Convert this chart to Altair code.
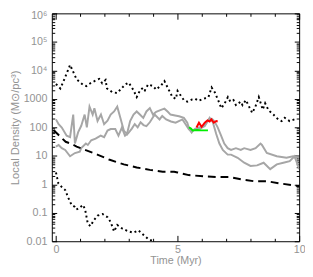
import altair as alt
import pandas as pd

# ---- data ----
top_t = [0, 0.18, 0.35, 0.58, 0.85, 1.1, 1.25, 1.45, 1.78, 1.9, 2.04, 2.1, 2.32, 2.52, 2.85, 2.99, 3.19, 3.32, 3.46, 3.59,
         3.66, 3.79, 3.99, 4.12, 4.33, 4.46, 4.66, 4.79, 4.93, 5.0, 5.13, 5.26, 5.4, 5.6, 5.73, 5.86, 6.07, 6.27, 6.4, 6.53,
         6.67, 6.8, 6.94, 7.07, 7.17, 7.3, 7.4, 7.6, 7.67, 7.81, 7.94, 8.07, 8.2, 8.34, 8.42, 8.5, 8.6, 8.74, 8.94, 9.14,
         9.28, 9.41, 9.61, 9.81, 9.88]
top_v = [3300, 2300, 5000, 15500, 4800, 3200, 2800, 3700, 5000, 3500, 4600, 2300, 1700, 1600, 3200, 3700, 2000, 1150, 2000, 2500,
         2000, 3200, 2800, 2100, 3000, 4200, 1900, 1150, 1000, 1900, 1300, 900, 800, 950, 1000, 850, 1000, 1150, 2500, 1700,
         900, 470, 700, 1150, 800, 900, 600, 800, 600, 900, 530, 320, 530, 1150, 700, 420, 700, 400, 280, 190,
         165, 215, 165, 190, 200]

bot_t = [0, 0.1, 0.23, 0.38, 0.51, 0.64, 0.78, 0.84, 0.97, 1.11, 1.2, 1.31, 1.42, 1.55, 1.71, 1.92, 2.12, 2.25, 2.39, 2.52,
         2.72, 2.99, 3.19, 3.39, 3.59, 3.79, 3.99, 4.2]
bot_v = [2.6, 1.07, 0.82, 0.63, 0.33, 0.19, 0.16, 0.13, 0.15, 0.19, 0.13, 0.041, 0.034, 0.054, 0.079, 0.09, 0.07, 0.047, 0.022, 0.037,
         0.028, 0.022, 0.02, 0.024, 0.017, 0.012, 0.01, 0.0075]

dash_t = [-0.1, 0.2, 0.4, 0.6, 0.85, 1.25, 1.7, 2.18, 2.79, 3.32, 3.86, 4.39, 4.86, 5.0, 5.46, 6.07, 6.6, 7.13, 7.6, 8.14,
          8.67, 9.21, 9.88, 10.0]
dash_v = [80, 45, 31, 27, 21, 15.5, 11, 7.4, 5.0, 3.9, 3.2, 2.75, 2.75, 2.6, 2.1, 1.9, 1.8, 1.8, 1.5, 1.28,
          1.28, 1.07, 0.89, 0.87]

g1_t = [0, 0.11, 0.24, 0.44, 0.58, 0.71, 0.78, 0.91, 1.04, 1.18, 1.27, 1.38, 1.51, 1.58, 1.71, 1.85, 1.98, 2.12, 2.25, 2.39,
        2.52, 2.65, 2.79, 2.92, 3.05, 3.19, 3.32, 3.45, 3.59, 3.72, 3.86, 3.99, 4.12, 4.32, 4.46, 4.6, 4.71, 4.9, 5.06, 5.26,
        5.4, 5.46, 5.58, 5.65, 5.93, 6.12, 6.32, 6.45, 6.59, 6.72, 6.86, 7.06, 7.2, 7.47, 7.74, 8.0, 8.27, 8.54, 8.81, 9.08,
        9.35, 9.61, 9.81, 9.9, 10.0]
g1_v = [190, 128, 98, 51, 45, 280, 27, 66, 113, 280, 100, 530, 280, 470, 166, 280, 128, 170, 280, 360,
        530, 214, 77, 58, 166, 280, 360, 280, 214, 360, 470, 280, 350, 410, 450, 350, 280, 260, 245, 214,
        145, 98, 66, 80, 90, 110, 214, 150, 58, 27, 16, 11, 11, 8.5, 5.7, 4.4, 4.6, 5.7, 3.4, 5.0,
        5.7, 6.5, 9.6, 6, 3.4]

g2_t = [0, 0.11, 0.24, 0.38, 0.58, 0.78, 0.98, 1.04, 1.23, 1.31, 1.45, 1.63, 1.84, 1.98, 2.12, 2.25, 2.44, 2.57, 2.71, 2.84,
        2.96, 3.12, 3.24, 3.36, 3.48, 3.6, 3.72, 3.86, 4.06, 4.26, 4.37, 4.53, 4.73, 4.92, 5.2, 5.33, 5.46, 5.57, 5.73, 5.93,
        6.12, 6.28, 6.41, 6.51, 6.65, 6.79, 6.92, 7.06, 7.2, 7.4, 7.6, 7.74, 8.0, 8.21, 8.41, 8.47, 8.67, 9.08, 9.48, 9.75,
        10.0]
g2_v = [21, 24, 18.5, 16, 9.6, 12.5, 14, 18.5, 27, 24, 35, 40, 51, 45, 77, 87, 87, 51, 98, 51,
        60, 90, 130, 100, 150, 120, 110, 150, 280, 189, 250, 189, 160, 145, 189, 128, 87, 70, 90, 100,
        120, 190, 200, 166, 100, 51, 27, 18.5, 16, 18.5, 16, 18.5, 16, 18.5, 27, 24, 12.5, 9.6, 8.5, 9.6,
        8.5]

green_t = [5.47, 5.55, 5.62, 5.8, 6.0, 6.25]
green_v = [100, 90, 78, 80, 78, 78]

red_t = [5.78, 5.88, 5.99, 6.12, 6.23, 6.32, 6.39, 6.49, 6.59, 6.65]
red_v = [98, 145, 104, 145, 175, 160, 189, 145, 166, 160]

x_major = [0, 5, 10]
x_minor = [1, 2, 3, 4, 6, 7, 8, 9]
y_major = [0.01, 0.1, 1, 10, 100, 1000, 1e4, 1e5, 1e6]
y_minor = [m * d for d in [0.01, 0.1, 1, 10, 100, 1000, 1e4, 1e5] for m in range(2, 10)]

# ---- chart ----
xs = alt.Scale(domain=[-0.17, 10], nice=False, zero=False)
ys = alt.Scale(type="log", domain=[0.01, 1e6], nice=False)

GRAY = "#939393"
FONT = "Liberation Sans"

y_label_expr = ("datum.value >= 1e6 ? '10\u2076' : datum.value >= 1e5 ? '10\u2075' : "
                "datum.value >= 1e4 ? '10\u2074' : datum.value >= 1 ? format(datum.value, 'd') : "
                "datum.value >= 0.1 ? '0.1' : '0.01'")

ax_x_bot_major = alt.Axis(orient="bottom", values=x_major, tickSize=6, offset=-6, labelPadding=3,
                          labelFlush=False, title="Time (Myr)", titlePadding=0)
ax_x_bot_minor = alt.Axis(orient="bottom", values=x_minor, tickSize=3, offset=-3, labels=False, title=None)
ax_x_top_major = alt.Axis(orient="top", values=x_major, tickSize=6, offset=-6, labels=False, title=None)
ax_x_top_minor = alt.Axis(orient="top", values=x_minor, tickSize=3, offset=-3, labels=False, title=None)

ax_y_left_major = alt.Axis(orient="left", values=y_major, tickSize=5, offset=-5, labelPadding=5,
                           labelExpr=y_label_expr, labelOverlap=False, labelFlush=False,
                           labelOffset={"condition": {"test": "datum.value >= 1e6", "value": 2}, "value": 0},
                           title="Local Density (M\u2299/pc\u00b3)", titleX=-37, titleFontSize=11.5)
ax_y_left_minor = alt.Axis(orient="left", values=y_minor, tickSize=3, offset=-3, labels=False, title=None)
ax_y_right_major = alt.Axis(orient="right", values=y_major, tickSize=5, offset=-5, labels=False, title=None)
ax_y_right_minor = alt.Axis(orient="right", values=y_minor, tickSize=3, offset=-3, labels=False, title=None)


def line(t, v, color, width, xaxis=None, yaxis=None, dash=None):
    df = pd.DataFrame({"t": t, "v": v})
    kw = dict(color=color, strokeWidth=width, clip=True, strokeCap="butt")
    if dash is not None:
        kw["strokeDash"] = dash
    return alt.Chart(df).mark_line(**kw).encode(
        x=alt.X("t:Q", scale=xs, axis=xaxis),
        y=alt.Y("v:Q", scale=ys, axis=yaxis),
    )


layers = [
    line(g1_t, g1_v, "#a6a6a6", 2, ax_x_bot_major, ax_y_left_major),
    line(g2_t, g2_v, "#a6a6a6", 2, ax_x_bot_minor, ax_y_left_minor),
    line(green_t, green_v, "#00ee00", 2, ax_x_top_major, ax_y_right_major),
    line(red_t, red_v, "#ff0000", 2, ax_x_top_minor, ax_y_right_minor),
    line(dash_t, dash_v, "black", 2, dash=[8, 5]),
    line(top_t, top_v, "black", 2, dash=[2, 3]),
    line(bot_t, bot_v, "black", 2, dash=[2, 3]),
]

chart = alt.layer(*layers).resolve_axis(x="independent", y="independent").properties(
    width=254, height=234,
    autosize=alt.AutoSizeParams(type="none"),
    padding={"left": 45, "top": 2, "right": 6, "bottom": 25},
).configure_view(stroke="black", strokeWidth=1).configure_axis(
    domain=False, grid=False, tickColor="black", tickWidth=1,
    labelColor=GRAY, titleColor=GRAY, labelFont=FONT, titleFont=FONT,
    labelFontSize=11, titleFontSize=11, titleFontWeight="normal",
)

chart.save("out.html", embed_options={"renderer": "svg", "actions": False})
